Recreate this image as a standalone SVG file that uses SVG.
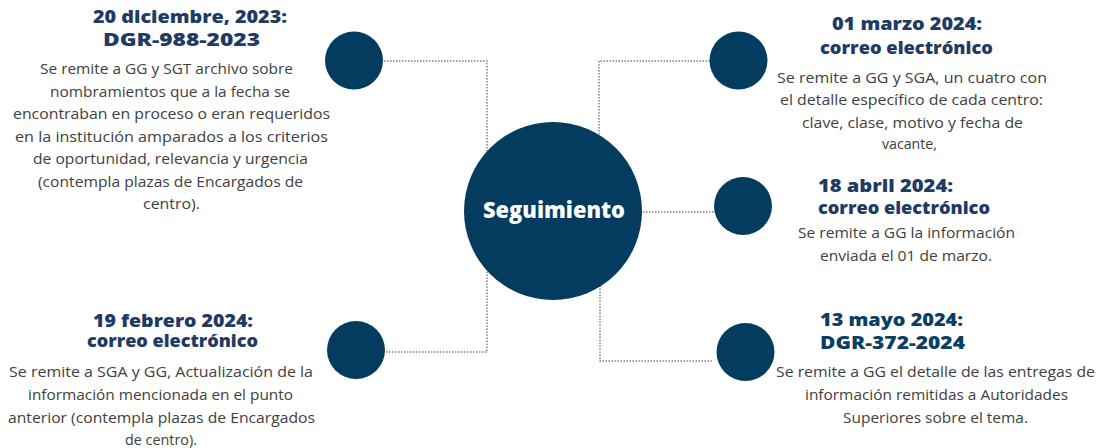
<svg xmlns="http://www.w3.org/2000/svg" width="1099" height="448" viewBox="0 0 1099 448">
<style>
.circ{fill:#033c5e}
.conn{fill:none;stroke:#808080;stroke-width:1.5;stroke-dasharray:1.5 1.5}
.t{font-family:"Open Sans","Liberation Sans",sans-serif;font-weight:800;font-size:18px;fill:#213a63}
.t2{fill:#0c3d62}
.b{font-family:"Open Sans","Liberation Sans",sans-serif;font-size:14.5px;fill:#404040}
.c{font-family:"Open Sans","Liberation Sans",sans-serif;font-weight:800;font-size:22px;fill:#ffffff}
</style>
<rect width="1099" height="448" fill="#ffffff"/>
<g id="connectors">
<polyline class="conn" points="384,61 487,61 487,160"/>
<polyline class="conn" points="386,352 487,352 487,270"/>
<polyline class="conn" points="710,61 599,61 599,160"/>
<polyline class="conn" points="643,212 714,212"/>
<polyline class="conn" points="712,361 600,361 600,270"/>
</g>
<g id="center">
<circle class="circ" cx="553" cy="211" r="89"/>
<text class="c" x="483" y="218" textLength="142" lengthAdjust="spacingAndGlyphs">Seguimiento</text>
</g>
<g id="node-dic">
<circle class="circ" cx="354" cy="60.5" r="29"/>
<text class="t" x="93" y="23" textLength="194" lengthAdjust="spacingAndGlyphs">20 diciembre, 2023:</text>
<text class="t" x="103" y="45.5" textLength="157" lengthAdjust="spacingAndGlyphs">DGR-988-2023</text>
<text class="b" x="40" y="74" textLength="253" lengthAdjust="spacingAndGlyphs">Se remite a GG y SGT archivo sobre</text>
<text class="b" x="50" y="96.5" textLength="240" lengthAdjust="spacingAndGlyphs">nombramientos que a la fecha se</text>
<text class="b" x="13" y="119" textLength="317" lengthAdjust="spacingAndGlyphs">encontraban en proceso o eran requeridos</text>
<text class="b" x="15" y="141.5" textLength="313" lengthAdjust="spacingAndGlyphs">en la institución amparados a los criterios</text>
<text class="b" x="33" y="164" textLength="275" lengthAdjust="spacingAndGlyphs">de oportunidad, relevancia y urgencia</text>
<text class="b" x="38" y="186.5" textLength="265" lengthAdjust="spacingAndGlyphs">(contempla plazas de Encargados de</text>
<text class="b" x="143" y="208.5" textLength="57" lengthAdjust="spacingAndGlyphs">centro).</text>
</g>
<g id="node-feb">
<circle class="circ" cx="356" cy="350" r="29"/>
<text class="t" x="93" y="327" textLength="160" lengthAdjust="spacingAndGlyphs">19 febrero 2024:</text>
<text class="t" x="87" y="347" textLength="171" lengthAdjust="spacingAndGlyphs">correo electrónico</text>
<text class="b" x="9" y="377" textLength="304" lengthAdjust="spacingAndGlyphs">Se remite a SGA y GG, Actualización de la</text>
<text class="b" x="28" y="400" textLength="265" lengthAdjust="spacingAndGlyphs">información mencionada en el punto</text>
<text class="b" x="8" y="422.5" textLength="307" lengthAdjust="spacingAndGlyphs">anterior (contempla plazas de Encargados</text>
<text class="b" x="125" y="445" textLength="72" lengthAdjust="spacingAndGlyphs">de centro).</text>
</g>
<g id="node-mar">
<circle class="circ" cx="738.5" cy="60.5" r="29"/>
<text class="t" x="832" y="30" textLength="150" lengthAdjust="spacingAndGlyphs">01 marzo 2024:</text>
<text class="t" x="820" y="54" textLength="173" lengthAdjust="spacingAndGlyphs">correo electrónico</text>
<text class="b" x="777" y="82.5" textLength="270" lengthAdjust="spacingAndGlyphs">Se remite a  GG y SGA, un cuatro con</text>
<text class="b" x="780" y="105" textLength="263" lengthAdjust="spacingAndGlyphs">el detalle específico de cada centro:</text>
<text class="b" x="802" y="127.5" textLength="221" lengthAdjust="spacingAndGlyphs">clave, clase, motivo y fecha  de</text>
<text class="b" x="882" y="148.5" textLength="55" lengthAdjust="spacingAndGlyphs">vacante,</text>
</g>
<g id="node-abr">
<circle class="circ" cx="743" cy="206" r="29"/>
<text class="t" x="818" y="192" textLength="135" lengthAdjust="spacingAndGlyphs">18 abril 2024:</text>
<text class="t" x="818" y="214" textLength="172" lengthAdjust="spacingAndGlyphs">correo electrónico</text>
<text class="b" x="798" y="238" textLength="217" lengthAdjust="spacingAndGlyphs">Se remite a GG la información</text>
<text class="b" x="820" y="260.5" textLength="172" lengthAdjust="spacingAndGlyphs">enviada el 01 de marzo.</text>
</g>
<g id="node-may">
<circle class="circ" cx="745.5" cy="352" r="29"/>
<text class="t t2" x="820" y="326" textLength="143" lengthAdjust="spacingAndGlyphs">13 mayo 2024:</text>
<text class="t t2" x="820" y="349" textLength="145" lengthAdjust="spacingAndGlyphs">DGR-372-2024</text>
<text class="b" x="776" y="377" textLength="319" lengthAdjust="spacingAndGlyphs">Se remite a GG el detalle de las entregas de</text>
<text class="b" x="805" y="400" textLength="263" lengthAdjust="spacingAndGlyphs">información remitidas a Autoridades</text>
<text class="b" x="843" y="422.5" textLength="185" lengthAdjust="spacingAndGlyphs">Superiores sobre el tema.</text>
</g>
</svg>
